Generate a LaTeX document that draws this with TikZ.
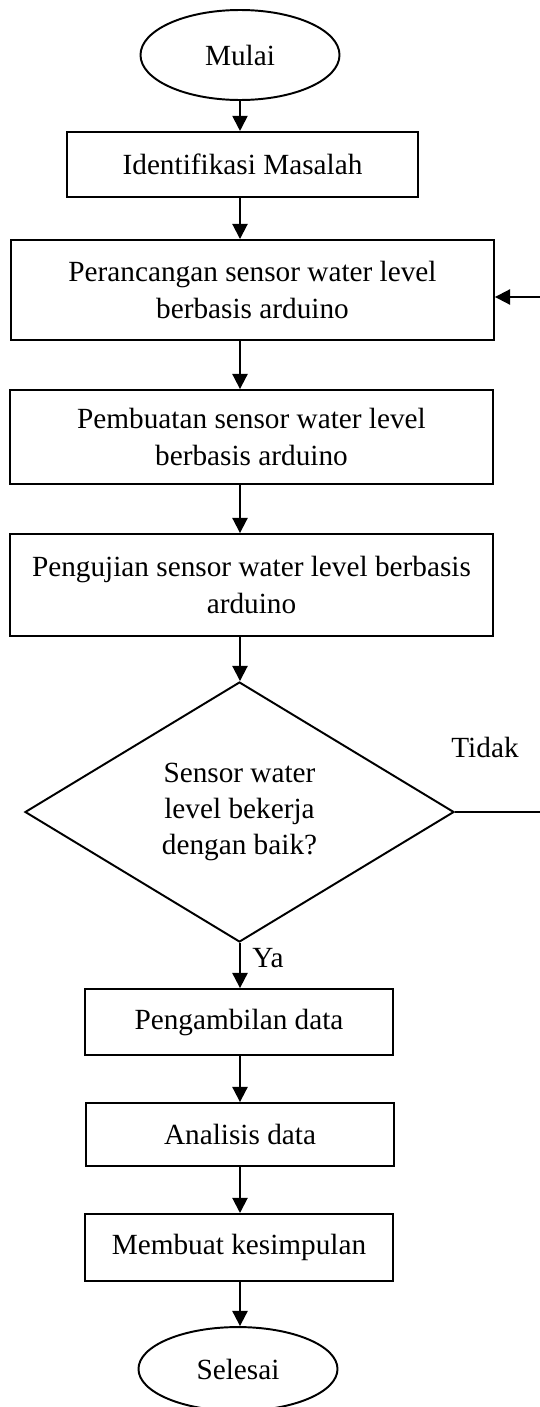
\documentclass[tikz,border=0pt]{standalone}
\usepackage{fontspec}
\setmainfont{Liberation Serif}
\usetikzlibrary{shapes.geometric,arrows.meta}
\begin{document}
\begin{tikzpicture}[x=0.41pt,y=-0.41pt,line width=0.8pt,font=\fontsize{12}{14.8}\selectfont]
\tikzstyle{kotak}=[draw,rectangle,align=center,inner sep=0pt]
\tikzstyle{oval}=[draw,ellipse,inner sep=0pt,minimum width=81.6pt]
\tikzstyle{keputusan}=[draw,diamond,align=center,inner sep=0pt,minimum width=175.9pt,minimum height=106.6pt]
\tikzstyle{panah}=[-{Triangle[length=6.2pt,width=6.2pt]}]
\useasboundingbox (0,0) rectangle (539,1407);
\node[oval,minimum height=36.9pt] (mulai) at (240,55) {Mulai};
\node[kotak,minimum width=143.9pt,minimum height=26.7pt] (ident) at (242.5,164.5) {Identifikasi Masalah};
\node[kotak,minimum width=198pt,minimum height=41pt] (rancang) at (252.5,290) {Perancangan sensor water level\\berbasis arduino};
\node[kotak,minimum width=198pt,minimum height=38.5pt] (buat) at (251.5,437) {Pembuatan sensor water level\\berbasis arduino};
\node[kotak,minimum width=198pt,minimum height=41.8pt] (uji) at (251.5,585) {Pengujian sensor water level berbasis\\arduino};
\node[keputusan] (cek) at (239.5,812) {Sensor water\\level bekerja\\dengan baik?};
\node[kotak,minimum width=126.3pt,minimum height=27pt] (ambil) at (239,1022) {Pengambilan data};
\node[kotak,minimum width=126.3pt,minimum height=25.8pt] (analisis) at (240,1134.5) {Analisis data};
\node[kotak,minimum width=126.3pt,minimum height=27.5pt] (simpul) at (239,1247.5) {Membuat kesimpulan};
\node[oval,minimum height=34.4pt] (selesai) at (238,1369) {Selesai};
\node (tidak) at (485,747) {Tidak};
\node (ya) at (268,958) {Ya};
\coordinate (kanan1) at (544,812);
\coordinate (kanan2) at (544,297);
\foreach \a/\b in {mulai/ident,ident/rancang,rancang/buat,buat/uji,uji/cek,cek/ambil,ambil/analisis,analisis/simpul,simpul/selesai}
	\draw[panah] (\a.south -| mulai) -- (\b.north -| mulai);
\draw[panah] (cek.east) -- (kanan1) -- (kanan2) -- (kanan2 -| rancang.east);
\end{tikzpicture}
\end{document}
